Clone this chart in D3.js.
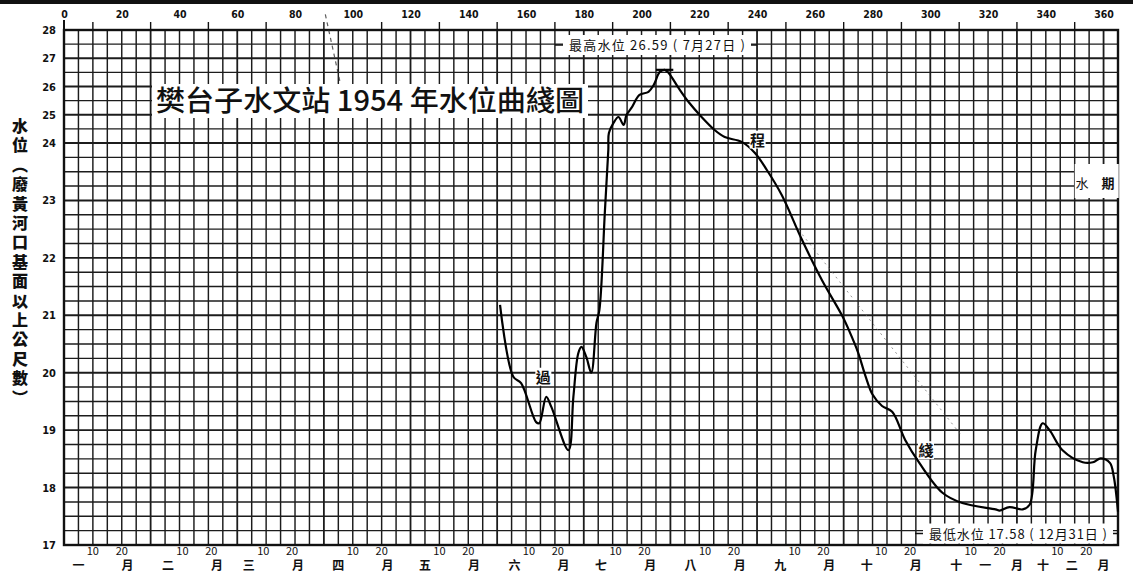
<!DOCTYPE html>
<html><head><meta charset="utf-8">
<script src="https://cdn.jsdelivr.net/npm/d3@7"></script>
<style>
body{margin:0;background:#fff;}
svg{display:block;}
text{font-family:"Noto Sans CJK TC","Noto Sans CJK SC",sans-serif;fill:#111;}
.num{font-family:"DejaVu Sans Condensed","DejaVu Sans",sans-serif;font-weight:700;}
</style></head><body>
<svg id="chart" width="1133" height="574"></svg>
<script>
// 樊台子水文站 1954 stage record: day of year and stage (m above the old Yellow River mouth datum)
const days = [151,155.6,158.3,163.5,164.6,167,168.8,174.7,176.4,178.1,179.2,180.9,182.6,184.4,185.4,187.3,188.5,188.7,190.3,192,193.8,194.8,196.5,199.3,202.4,204.2,206.3,208,209.4,212.8,216.3,220.8,225.3,228.8,234.7,239.2,243.4,248.6,255.6,262.5,269.4,272,275,277.5,280,283.3,286.8,291.3,296.2,304.2,311.1,322.6,324,327.4,332,334.4,336.5,338.9,341.3,345.8,352.8,356.3,359,362.2,363.5,365];
const stages = [21.18,19.93,19.82,19.14,19.12,19.58,19.40,18.65,19.58,20.34,20.45,20.27,20.00,20.87,21.09,22.8,23.88,24.35,24.71,24.92,24.64,24.99,25.24,25.70,25.81,26.05,26.51,26.59,26.48,25.95,25.45,24.92,24.46,24.21,24.04,23.83,23.53,23.09,22.31,21.61,21.00,20.72,20.35,19.95,19.62,19.42,19.32,18.83,18.43,17.91,17.73,17.62,17.60,17.66,17.62,17.70,18.65,19.12,19.00,18.65,18.44,18.44,18.51,18.43,18.2,17.58];

// axis ticks
const dayTicks = d3.range(0, 361, 20);
const stageTicks = d3.range(17, 29, 1);
const monthStart = [0,31,59,90,120,151,181,212,243,273,304,334];
const monthChars = [["一"],["二"],["三"],["四"],["五"],["六"],["七"],["八"],["九"],["十"],["十","一"],["十","二"]];
const dekadLabels = [10, 20];

// extremes noted on the sheet
const maxDay = 208, maxStage = 26.59, maxDate = "7月27日";
const minDay = 365, minStage = 17.58, minDate = "12月31日";

// pencil strokes left on the sheet (day, stage)
const pencilA = [[253.1, 22.57], [310.9, 18.9]];
const pencilB = [[90.5, 28.55], [95.5, 26.2]];

const svg = d3.select("#chart");
const W = 1133, H = 574;
const pL = 64, pR = 1118, pT = 30, pB = 545;

const x = d3.scaleLinear().domain([0, 365]).range([pL, pR]);
// stage axis is compressed above 24 m
const y = d3.scaleLinear().domain([17, 24, 28]).range([pB, 143, pT]);

svg.append("rect").attr("width", W).attr("height", H).attr("fill", "#fff");
svg.append("rect").attr("x", 0).attr("y", 0).attr("width", W).attr("height", 4).attr("fill", "#111");

// grid
const vDays = d3.range(0, 366, 5);
const hVals = d3.range(17, 24, 0.25).concat(d3.range(24, 28.01, 0.5));
const grid = svg.append("g").attr("stroke", "#1c1c1c");
grid.selectAll("line.v").data(vDays).join("line")
  .attr("x1", d => x(d)).attr("x2", d => x(d))
  .attr("y1", pT).attr("y2", pB)
  .attr("stroke-width", d => d % 30 === 0 ? 1.8 : 1.45);
grid.selectAll("line.h").data(hVals).join("line")
  .attr("y1", d => y(d)).attr("y2", d => y(d))
  .attr("x1", pL).attr("x2", pR)
  .attr("stroke-width", d => Number.isInteger(d) ? 1.9 : 1.45);
svg.append("rect").attr("x", pL).attr("y", pT).attr("width", pR - pL).attr("height", pB - pT)
  .attr("fill", "none").attr("stroke", "#111").attr("stroke-width", 2.4);
svg.append("line").attr("x1", pL).attr("x2", pL).attr("y1", pT - 10).attr("y2", pT)
  .attr("stroke", "#111").attr("stroke-width", 2);

// top day axis
const topAxis = svg.append("g").attr("transform", `translate(0,${pT - 9})`)
  .call(d3.axisTop(x).tickValues(dayTicks).tickSize(0).tickPadding(3));
topAxis.select(".domain").remove();
topAxis.selectAll("text").attr("class", "num").attr("font-size", 10.5).attr("fill", "#111");
svg.append("g").selectAll("line").data(d3.range(10, 361, 20)).join("line")
  .attr("x1", d => x(d)).attr("x2", d => x(d)).attr("y1", pT - 8).attr("y2", pT)
  .attr("stroke", "#111").attr("stroke-width", 1.4);

// left stage axis
const leftAxis = svg.append("g").attr("transform", `translate(${pL - 6},0)`)
  .call(d3.axisLeft(y).tickValues(stageTicks).tickSize(0).tickPadding(2));
leftAxis.select(".domain").remove();
leftAxis.selectAll("text").attr("class", "num").attr("font-size", 11).attr("fill", "#111");

// month labels along the bottom
const mLab = svg.append("g");
monthStart.forEach((s, i) => {
  dekadLabels.forEach(d => {
    mLab.append("text").attr("x", x(s + d)).attr("y", 555).attr("text-anchor", "middle")
      .attr("font-family", "Liberation Sans, Arial, sans-serif").attr("font-size", 11).text(d);
  });
  const chars = monthChars[i];
  const pos = chars.length === 1 ? [5] : [5, 15];
  chars.forEach((c, j) => {
    mLab.append("text").attr("x", x(s + pos[j])).attr("y", 570).attr("text-anchor", "middle")
      .attr("font-size", 12).attr("font-weight", 700).text(c);
  });
  mLab.append("text").attr("x", x(s + (chars.length === 1 ? 22 : 26))).attr("y", 570).attr("text-anchor", "middle")
    .attr("font-size", 12).attr("font-weight", 700).text("月");
});

// y-axis caption
svg.append("text").attr("x", 20).attr("y", 118)
  .style("writing-mode", "vertical-rl")
  .attr("font-size", 16).attr("font-weight", 900).attr("letter-spacing", 3.4)
  .text("水位（廢黃河口基面以上公尺數）");

// title
svg.append("rect").attr("x", 152).attr("y", 84).attr("width", 436).attr("height", 34).attr("fill", "#fff");
svg.append("text").attr("x", 156).attr("y", 111).attr("font-size", 28).attr("font-weight", 500)
  .attr("textLength", 428).attr("lengthAdjust", "spacingAndGlyphs")
  .text("樊台子水文站 1954 年水位曲綫圖");

// pencil strokes
const pline = d3.line().x(d => x(d[0])).y(d => y(d[1]));
svg.append("path").datum(pencilA).attr("d", pline)
  .attr("stroke", "#666").attr("stroke-width", 1).attr("stroke-dasharray", "2,4").attr("fill", "none").attr("opacity", 0.7);
svg.append("path").datum(pencilB).attr("d", pline)
  .attr("stroke", "#333").attr("stroke-width", 1.2).attr("stroke-dasharray", "4,4").attr("fill", "none").attr("opacity", 0.8);

// hydrograph
const pts = days.map((d, i) => [d, stages[i]]);
svg.append("path").datum(pts)
  .attr("fill", "none").attr("stroke", "#000").attr("stroke-width", 2.2).attr("stroke-linejoin", "round")
  .attr("d", d3.line().x(d => x(d[0])).y(d => y(d[1])).curve(d3.curveCatmullRom.alpha(0.5)));

// crest mark
svg.append("line").attr("x1", x(maxDay - 3)).attr("x2", x(maxDay + 3))
  .attr("y1", y(maxStage)).attr("y2", y(maxStage)).attr("stroke", "#000").attr("stroke-width", 2.2);

// extreme annotations
function note(cx, cy, w, label) {
  svg.append("line").attr("x1", cx - w / 2 - 8).attr("x2", cx + w / 2 + 6).attr("y1", cy).attr("y2", cy)
    .attr("stroke", "#111").attr("stroke-width", 1.4);
  svg.append("rect").attr("x", cx - w / 2).attr("y", cy - 10).attr("width", w).attr("height", 20).attr("fill", "#fff");
  svg.append("text").attr("x", cx).attr("y", cy + 5).attr("text-anchor", "middle").attr("font-size", 13)
    .attr("textLength", w - 12).attr("lengthAdjust", "spacing").text(label);
}
note(657, 45, 188, `最高水位 ${maxStage.toFixed(2)} ( ${maxDate} )`);
note(1018, y(17.2), 190, `最低水位 ${minStage.toFixed(2)} ( ${minDate} )`);

// words written along the curve
const tags = [["過", 166, 19.93], ["程", 240.2, 24.12], ["綫", 298.5, 18.65]];
tags.forEach(([t, d, v]) => {
  svg.append("rect").attr("x", x(d) - 8).attr("y", y(v) - 9).attr("width", 16).attr("height", 18).attr("fill", "#fff");
  svg.append("text").attr("x", x(d)).attr("y", y(v) + 6).attr("text-anchor", "middle").attr("font-size", 15).attr("font-weight", 700).text(t);
});
svg.append("rect").attr("x", x(350)).attr("y", 164).attr("width", 44).attr("height", 34).attr("fill", "#fff");
svg.append("text").attr("x", x(352.5)).attr("y", 188).attr("text-anchor", "middle").attr("font-size", 13).text("水");
svg.append("text").attr("x", x(361.5)).attr("y", 188).attr("text-anchor", "middle").attr("font-size", 13).attr("font-weight", 700).text("期");
</script>
</body></html>
